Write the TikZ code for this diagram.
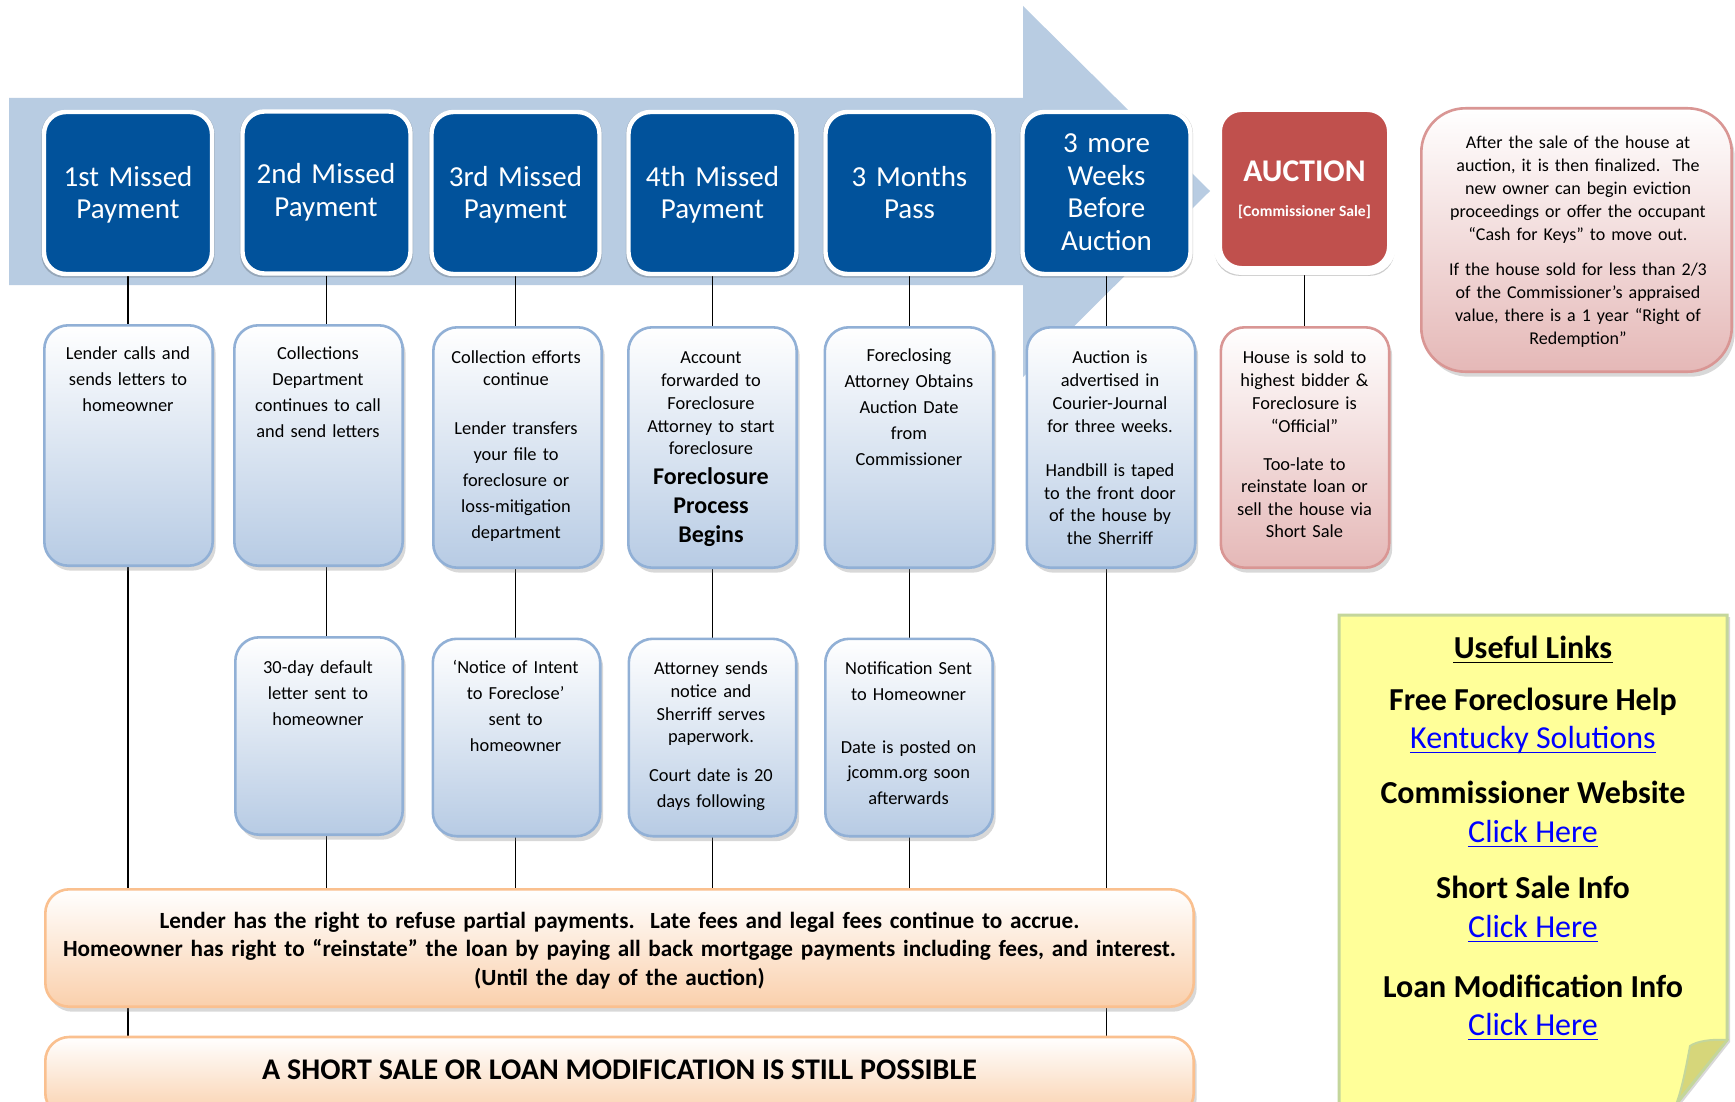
\documentclass[tikz,border=0pt]{standalone}
\usepackage{fontspec}
\setmainfont{Carlito}
\usetikzlibrary{shadows}
\pgfdeclarelayer{bg}
\pgfdeclarelayer{lines}
\pgfsetlayers{bg,lines,main}
\definecolor{hdrblue}{RGB}{1,82,155}
\definecolor{bandblue}{RGB}{184,204,226}
\definecolor{midbot}{RGB}{183,203,228}
\definecolor{midborder}{RGB}{145,176,214}
\definecolor{aucred}{RGB}{192,80,77}
\definecolor{redbot}{RGB}{229,184,183}
\definecolor{redborder}{RGB}{217,150,148}
\definecolor{orgbot}{RGB}{250,208,172}
\definecolor{orgborder}{RGB}{250,192,143}
\definecolor{notefill}{RGB}{255,255,153}
\definecolor{noteborder}{RGB}{196,214,155}
\definecolor{curlfill}{RGB}{214,214,122}
\definecolor{linkblue}{RGB}{0,0,255}
\tikzset{
  hdrbox/.style={draw=white, line width=2.2pt, fill=hdrblue, rounded corners=11pt,
    minimum width=84pt, minimum height=81pt, inner sep=0pt,
    general shadow={fill=black, opacity=0.18, shadow scale=1.03, shadow yshift=-0.6pt}},
  hdrtext/.style={text=white, font=\fontsize{14.5pt}{16.2pt}\selectfont, align=center,
    text width=100pt, inner sep=0pt, anchor=base},
  cardbox/.style={line width=1.3pt, rounded corners=12pt, inner sep=0pt, minimum width=84.2pt,
    drop shadow={shadow xshift=1.5pt, shadow yshift=-2.5pt, opacity=0.3}},
  bluecard/.style={cardbox, draw=midborder, top color=white, bottom color=midbot},
  redcard/.style={cardbox, draw=redborder, top color=white, bottom color=redbot},
  orangecard/.style={cardbox, draw=orgborder, top color=white, bottom color=orgbot},
  cardtext/.style={font=\fontsize{9.2pt}{13pt}\selectfont, align=center, text width=100pt,
    inner sep=0pt, anchor=base},
  tighttext/.style={cardtext, font=\fontsize{9.2pt}{11.4pt}\selectfont},
  boldtext/.style={font=\bfseries\fontsize{11.6pt}{14.25pt}\selectfont, align=center,
    text width=600pt, inner sep=0pt, anchor=base},
  linkhead/.style={font=\bfseries\fontsize{16pt}{19pt}\selectfont, anchor=base, inner sep=0pt},
  linktext/.style={font=\fontsize{16pt}{19pt}\selectfont, text=linkblue, anchor=base, inner sep=0pt},
  conn/.style={draw=black, line width=0.75pt},
  uline/.style={line width=0.8pt},
}
\begin{document}
\begin{tikzpicture}[x=0.5pt,y=-0.5pt]
\useasboundingbox (0,0) rectangle (1735,1102);

% background and band arrow
\begin{pgfonlayer}{bg}
\fill[white] (0,0) rectangle (1735,1102);
\fill[bandblue] (9,98) -- (1023,98) -- (1023,6) -- (1210,191) -- (1023,377) -- (1023,285) -- (9,285) -- cycle;
\end{pgfonlayer}

% header boxes
\node[hdrbox] (h1) at (128,193) {};
\node[hdrbox] (h2) at (326.5,192.5) {};
\node[hdrbox] (h3) at (515.5,193) {};
\node[hdrbox] (h4) at (712.5,193) {};
\node[hdrbox] (h5) at (909.5,193) {};
\node[hdrbox] (h6) at (1106.5,193) {};
\node[draw=white, line width=4.5pt, fill=aucred, rounded corners=12pt, minimum width=87pt,
  minimum height=81.5pt, inner sep=0pt,
  general shadow={fill=black, opacity=0.2, shadow scale=1.035, shadow yshift=-1.2pt}] (h7) at (1304.5,189) {};

\node[hdrtext] (h1t) at (128,186.4) {1st Missed\\Payment};
\node[hdrtext] (h2t) at (326,184) {2nd Missed\\Payment};
\node[hdrtext] (h3t) at (515.5,186.4) {3rd Missed\\Payment};
\node[hdrtext] (h4t) at (712.5,186.4) {4th Missed\\Payment};
\node[hdrtext] (h5t) at (909.5,186.4) {3 Months\\Pass};
\node[hdrtext] (h6t) at (1106.5,153) {3 more\\Weeks\\Before\\Auction};
\node[text=white, font=\bfseries\fontsize{15.8pt}{18pt}\selectfont, anchor=base, inner sep=0pt] (h7t) at (1304.5,182) {AUCTION};
\node[text=white, font=\bfseries\fontsize{7.8pt}{9pt}\selectfont, anchor=base, inner sep=0pt] (h7s) at (1304.5,216) {[Commissioner Sale]};

% middle row
\node[bluecard, minimum height=120.2pt] (m1) at (128.5,445.5) {};
\node[bluecard, minimum height=120.2pt] (m2) at (318.5,445.5) {};
\node[bluecard, minimum height=120.2pt] (m3) at (517.5,447.5) {};
\node[bluecard, minimum height=120.2pt] (m4) at (712.5,447.5) {};
\node[bluecard, minimum height=120.2pt] (m5) at (909,447.5) {};
\node[bluecard, minimum height=120.2pt] (m6) at (1111,447.5) {};
\node[redcard, minimum height=120.2pt] (m7) at (1305,447.5) {};

\node[cardtext] (t1) at (128,359.7) {Lender calls and\\sends letters to\\homeowner};
\node[cardtext] (t2) at (318,359.7) {Collections\\Department\\continues to call\\and send letters};
\node[cardtext, font=\fontsize{9.2pt}{10.8pt}\selectfont] (t3a) at (516,363.6) {Collection efforts\\continue};
\node[cardtext] (t3b) at (516,434) {Lender transfers\\your file to\\foreclosure or\\loss-mitigation\\department};
\node[tighttext] (t4a) at (711,363.6) {Account\\forwarded to\\Foreclosure\\Attorney to start\\foreclosure};
\node[cardtext, font=\bfseries\fontsize{12pt}{14.7pt}\selectfont] (t4b) at (711,484) {Foreclosure\\Process\\Begins};
\node[cardtext] (t5) at (909,361.6) {Foreclosing\\Attorney Obtains\\Auction Date\\from\\Commissioner};
\node[tighttext] (t6a) at (1110,363.6) {Auction is\\advertised in\\Courier-Journal\\for three weeks.};
\node[tighttext, font=\fontsize{9.2pt}{11.3pt}\selectfont] (t6b) at (1110,476.5) {Handbill is taped\\to the front door\\of the house by\\the Sherriff};
\node[tighttext] (t7a) at (1304.5,363.6) {House is sold to\\highest bidder \&\\Foreclosure is\\“Official”};
\node[tighttext, font=\fontsize{9.2pt}{11.3pt}\selectfont] (t7b) at (1304.5,470) {Too-late to\\reinstate loan or\\sell the house via\\Short Sale};

% third row
\node[bluecard, minimum width=83.7pt, minimum height=98.7pt] (b2) at (319,736) {};
\node[bluecard, minimum width=83.7pt, minimum height=98.7pt] (b3) at (516.5,737.5) {};
\node[bluecard, minimum width=83.7pt, minimum height=98.7pt] (b4) at (712.5,737.5) {};
\node[bluecard, minimum width=83.7pt, minimum height=98.7pt] (b5) at (909,737.5) {};

\node[cardtext] (u2) at (318,673) {30-day default\\letter sent to\\homeowner};
\node[cardtext, font=\fontsize{9.2pt}{12.9pt}\selectfont] (u3) at (515.6,673.9) {‘Notice of Intent\\to Foreclose’\\sent to\\homeowner};
\node[tighttext, font=\fontsize{9.2pt}{11.3pt}\selectfont] (u4a) at (711,674.9) {Attorney sends\\notice and\\Sherriff serves\\paperwork.};
\node[cardtext, font=\fontsize{9.2pt}{12.8pt}\selectfont] (u4b) at (711,781.4) {Court date is 20\\days following};
\node[cardtext, font=\fontsize{9.2pt}{12.8pt}\selectfont] (u5a) at (908.6,674.9) {Notification Sent\\to Homeowner};
\node[cardtext, font=\fontsize{9.2pt}{12.9pt}\selectfont] (u5b) at (908.6,753) {Date is posted on\\jcomm.org soon\\afterwards};

% bottom bars
\node[orangecard, minimum width=574.2pt, minimum height=58.7pt] (o1) at (619.5,948) {};
\node[orangecard, minimum width=574.2pt, minimum height=40pt] (o2) at (619.5,1077) {};
\node[boldtext] (o1t) at (619.5,928) {Lender has the right to refuse partial payments.\ \ Late fees and legal fees continue to accrue.\\Homeowner has right to “reinstate” the loan by paying all back mortgage payments including fees, and interest.\\(Until the day of the auction)};
\node[font=\bfseries\fontsize{15pt}{18pt}\selectfont, anchor=base, inner sep=0pt] (o2t) at (619.5,1079) {A SHORT SALE OR LOAN MODIFICATION IS STILL POSSIBLE};

% right note
\node[redcard, minimum width=155.2pt, minimum height=131.7pt, rounded corners=22pt] (rn) at (1576.5,240) {};
\node[cardtext, font=\fontsize{9pt}{11.5pt}\selectfont, text width=160pt] (rn1) at (1578,148.5) {After the sale of the house at\\auction, it is then finalized.\ \ The\\new owner can begin eviction\\proceedings or offer the occupant\\“Cash for Keys” to move out.};
\node[cardtext, font=\fontsize{9pt}{11.5pt}\selectfont, text width=160pt] (rn2) at (1578,275.5) {If the house sold for less than 2/3\\of the Commissioner’s appraised\\value, there is a 1 year “Right of\\Redemption”};

% yellow sticky note
\path[fill=notefill, draw=noteborder, line width=1.5pt,
  drop shadow={shadow xshift=1.5pt, shadow yshift=-1pt, opacity=0.3}]
  (1339,615) -- (1727,615) -- (1727,1040) -- (1670,1112) -- (1339,1112) -- cycle;
\path[fill=curlfill, draw=noteborder, line width=1pt]
  (1727,1040) .. controls (1712,1039) and (1697,1041) .. (1690,1046)
  .. controls (1686,1068) and (1682,1088) .. (1677,1102) -- cycle;

\node[linkhead] (ylh) at (1533,658) {Useful Links};
\draw[uline] ([yshift=-2.2pt]ylh.base west) -- ([yshift=-2.2pt]ylh.base east);
\node[linkhead] (y1h) at (1533,710) {Free Foreclosure Help};
\node[linktext] (y1l) at (1533,748) {Kentucky Solutions};
\draw[uline, linkblue] ([yshift=-2.2pt]y1l.base west) -- ([yshift=-2.2pt]y1l.base east);
\node[linkhead] (y2h) at (1533,803) {Commissioner Website};
\node[linktext] (y2l) at (1533,842) {Click Here};
\draw[uline, linkblue] ([yshift=-2.2pt]y2l.base west) -- ([yshift=-2.2pt]y2l.base east);
\node[linkhead] (y3h) at (1533,898) {Short Sale Info};
\node[linktext] (y3l) at (1533,937) {Click Here};
\draw[uline, linkblue] ([yshift=-2.2pt]y3l.base west) -- ([yshift=-2.2pt]y3l.base east);
\node[linkhead] (y4h) at (1533,997) {Loan Modification Info};
\node[linktext] (y4l) at (1533,1035) {Click Here};
\draw[uline, linkblue] ([yshift=-2.2pt]y4l.base west) -- ([yshift=-2.2pt]y4l.base east);

% connectors (behind boxes)
\begin{pgfonlayer}{lines}
\draw[conn] (h1.south) -- (h1.south |- o2.north);
\draw[conn] (h2.south) -- (h2.south |- o1.north);
\draw[conn] (h3.south) -- (h3.south |- o1.north);
\draw[conn] (h4.south) -- (h4.south |- o1.north);
\draw[conn] (h5.south) -- (h5.south |- o1.north);
\draw[conn] (h6.south) -- (h6.south |- o2.north);
\draw[conn] (h7.south) -- (h7.south |- m7.north);
\end{pgfonlayer}
\end{tikzpicture}
\end{document}
